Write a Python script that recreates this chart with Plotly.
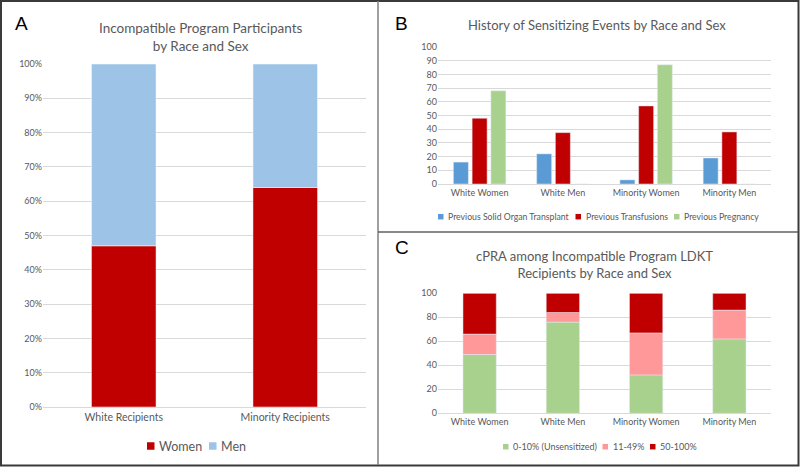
import numpy as np
import plotly.graph_objects as go

W, H = 800, 467

# Panel A data
a_categories = ["White Recipients", "Minority Recipients"]
a_series = ["Women", "Men"]
a_women = [47, 64]
a_men = [53, 36]
a_ticks = [0, 10, 20, 30, 40, 50, 60, 70, 80, 90, 100]
a_ticklabels = [f"{t}%" for t in a_ticks]

# Panel B data
b_categories = ["White Women", "White Men", "Minority Women", "Minority Men"]
b_series = ["Previous Solid Organ Transplant", "Previous Transfusions", "Previous Pregnancy"]
b_transplant = [16, 22, 3, 19]
b_transfusions = [48, 37.5, 57, 38]
b_pregnancy = [68, 0, 87, 0]
b_ticks = [0, 10, 20, 30, 40, 50, 60, 70, 80, 90, 100]

# Panel C data
c_categories = ["White Women", "White Men", "Minority Women", "Minority Men"]
c_series = ["0-10% (Unsensitized)", "11-49%", "50-100%"]
c_unsens = [49, 76, 32, 62]
c_mid = [17, 8, 35, 24]
c_high = [34, 16, 33, 14]
c_ticks = [0, 20, 40, 60, 80, 100]

RED = "#C00000"
LBLUE = "#9DC3E6"
BLUE = "#5B9BD5"
GREEN = "#A9D18E"
PINK = "#FF9999"
GRID = "#D9D9D9"
TXT = "#595959"
FONT = "Lato"


def px_x(p):
    return p / W


def px_y(p):
    return (H - p) / H


fig = go.Figure()

# ---- Panel A (stacked via base) ----
a_colors = [RED, LBLUE]
a_vals = [a_women, a_men]
a_bases = [None, list(np.array(a_women))]
for nm, col, vals, base in zip(a_series, a_colors, a_vals, a_bases):
    fig.add_trace(go.Bar(x=a_categories, y=vals, base=base, name=nm, marker_color=col,
                         width=0.4, xaxis="x", yaxis="y", showlegend=False,
                         marker_line=dict(color="white", width=0.5)))

# ---- Panel B (grouped via offset) ----
b_colors = [BLUE, RED, GREEN]
b_vals = [b_transplant, b_transfusions, b_pregnancy]
b_offsets = [-0.315, -0.09, 0.135]
for nm, col, vals, off in zip(b_series, b_colors, b_vals, b_offsets):
    fig.add_trace(go.Bar(x=b_categories, y=vals, name=nm, marker_color=col,
                         width=0.18, offset=off, xaxis="x2", yaxis="y2", showlegend=False))

# ---- Panel C (stacked via base) ----
c_colors = [GREEN, PINK, RED]
c_vals = [c_unsens, c_mid, c_high]
c_bases = [None, list(np.array(c_unsens)), list(np.array(c_unsens) + np.array(c_mid))]
for nm, col, vals, base in zip(c_series, c_colors, c_vals, c_bases):
    fig.add_trace(go.Bar(x=c_categories, y=vals, base=base, name=nm, marker_color=col,
                         width=0.4, xaxis="x3", yaxis="y3", showlegend=False))


def xax(domain, anchor, size):
    return dict(domain=domain, anchor=anchor, showgrid=False, automargin=False,
                tickfont=dict(size=size, color=TXT), linecolor=GRID, showline=True,
                ticks="", zeroline=False, fixedrange=True)


def yax(domain, anchor, tickvals, ticktext=None):
    d = dict(domain=domain, anchor=anchor, range=[0, 100], tickvals=tickvals,
             gridcolor=GRID, gridwidth=1, automargin=False,
             tickfont=dict(size=9, color=TXT), showline=False, zeroline=False,
             ticks="", fixedrange=True)
    if ticktext is not None:
        d["ticktext"] = ticktext
    return d


fig.update_layout(
    width=W, height=H,
    margin=dict(l=0, r=0, t=0, b=0, autoexpand=False),
    paper_bgcolor="white", plot_bgcolor="white",
    barmode="overlay",
    font=dict(family=FONT, color=TXT),
    showlegend=False,
    xaxis=xax([px_x(43), px_x(366)], "y", 10.5),
    yaxis=yax([px_y(407), px_y(64)], "x", a_ticks, a_ticklabels),
    xaxis2=xax([px_x(438), px_x(771)], "y2", 9),
    yaxis2=yax([px_y(184), px_y(47)], "x2", b_ticks),
    xaxis3=xax([px_x(438), px_x(771)], "y3", 9),
    yaxis3=yax([px_y(413.3), px_y(293.3)], "x3", c_ticks),
)

annotations = [
    dict(text="Incompatible Program Participants<br>by Race and Sex", x=px_x(201), y=px_y(37),
         font=dict(size=13.5, color=TXT)),
    dict(text="History of Sensitizing Events by Race and Sex", x=px_x(597), y=px_y(25),
         font=dict(size=13, color=TXT)),
    dict(text="cPRA among Incompatible Program LDKT<br>Recipients by Race and Sex", x=px_x(594), y=px_y(264),
         font=dict(size=13, color=TXT)),
    dict(text="A", x=px_x(21), y=px_y(23), font=dict(size=19, color="black", family="Liberation Sans")),
    dict(text="B", x=px_x(402), y=px_y(23), font=dict(size=19, color="black", family="Liberation Sans")),
    dict(text="C", x=px_x(402), y=px_y(247), font=dict(size=19, color="black", family="Liberation Sans")),
]
for a in annotations:
    a.update(xref="paper", yref="paper", showarrow=False, xanchor="center", yanchor="middle")

shapes = [
    dict(type="rect", x0=px_x(1), x1=px_x(798.5), y0=px_y(465.5), y1=px_y(1),
         line=dict(color="#3a3a3a", width=2)),
    dict(type="line", x0=px_x(378), x1=px_x(378), y0=px_y(465), y1=px_y(1),
         line=dict(color="#808080", width=1.5)),
    dict(type="line", x0=px_x(378), x1=px_x(798), y0=px_y(232), y1=px_y(232),
         line=dict(color="#606060", width=1.5)),
]

# Legends drawn as keys + labels (names from the series lists)
legend_specs = [
    (a_series, a_colors, [147, 209], 446, 7.5, 12.5),
    (b_series, b_colors, [438, 575.5, 674], 216.7, 5.5, 8.7),
    (c_series, c_colors, [503, 602.5, 650], 446.7, 5.5, 9),
]
for names, cols, xs, yc, sz, fsz in legend_specs:
    for nm, col, x0 in zip(names, cols, xs):
        shapes.append(dict(type="rect", x0=px_x(x0), x1=px_x(x0 + sz),
                           y0=px_y(yc + sz / 2), y1=px_y(yc - sz / 2),
                           fillcolor=col, line=dict(width=0)))
        annotations.append(dict(text=nm, x=px_x(x0 + sz + 2.5), y=px_y(yc), xref="paper", yref="paper",
                                showarrow=False, xanchor="left", yanchor="middle",
                                font=dict(size=fsz, color=TXT)))

for s in shapes:
    s.update(xref="paper", yref="paper")
fig.update_layout(annotations=annotations, shapes=shapes)

fig.write_html("out.html", config={"displayModeBar": False},
               post_script="document.body.style.margin='0';document.body.style.overflow='hidden';")
